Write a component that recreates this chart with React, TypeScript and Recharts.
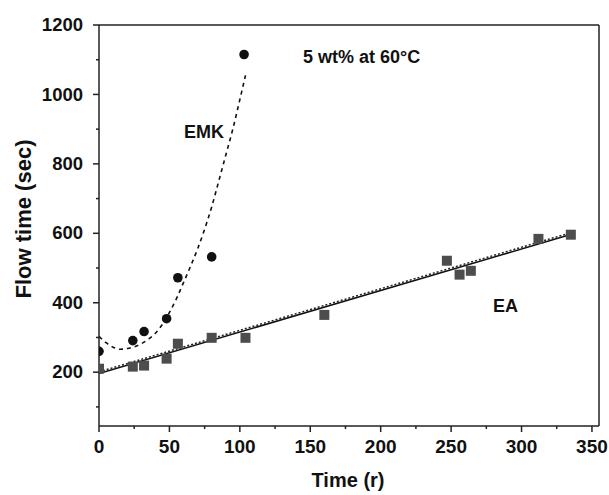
import React from 'react';
import {
    ComposedChart, XAxis, YAxis, Scatter, Line,
    ReferenceLine, Customized
} from 'recharts';

// measured points
const emkTime = [0, 24, 32, 48, 56, 80, 103];
const emkFlow = [260, 291, 317, 354, 472, 532, 1115];

const eaTime = [0, 24, 32, 48, 56, 80, 104, 160, 247, 256, 264, 312, 335];
const eaFlow = [210, 216, 219, 239, 282, 299, 299, 365, 521, 481, 492, 584, 596];

// fitted curves
const emkFitTime = [0, 5, 10, 15, 20, 25, 30, 35, 40, 45, 50, 55, 60, 65, 70, 75, 80, 85, 90, 95, 100, 104];
const emkFitFlow = [303, 285, 272, 266, 268, 273, 282, 295, 312, 338, 372, 412, 458, 505, 555, 612, 676, 750, 825, 900, 985, 1055];

const eaFitTime = [0, 336];
const eaFitFlow = [196, 598];
const eaFit2Flow = [201, 603];

const xTicks = [0, 25, 50, 75, 100, 125, 150, 175, 200, 225, 250, 275, 300, 325, 350];
const yTicks = [100, 200, 300, 400, 500, 600, 700, 800, 900, 1000, 1100, 1200];

const zip = (xs: number[], ys: number[]) => xs.map((x, i) => ({ x, y: ys[i] }));

const emkPoints = zip(emkTime, emkFlow);
const eaPoints = zip(eaTime, eaFlow);
const emkFit = zip(emkFitTime, emkFitFlow);
const eaFit = zip(eaFitTime, eaFitFlow);
const eaFit2 = zip(eaFitTime, eaFit2Flow);

const FONT = 'Liberation Sans, Arial, sans-serif';
const AXIS = '#222';

const YTick = (props: any) => {
    const { x, y, payload } = props;
    const major = payload.value % 200 === 0;
    return (
        <g>
            <line x1={x} x2={x - (major ? 6 : 3)} y1={y} y2={y} stroke={AXIS} strokeWidth={1.5} />
            {major && (
                <text x={x - 16} y={y} dy="0.33em" textAnchor="end"
                    fontFamily={FONT} fontWeight="bold" fontSize={18.5} fill="#111">
                    {payload.value}
                </text>
            )}
        </g>
    );
};

const XTick = (props: any) => {
    const { x, y, payload } = props;
    const major = payload.value % 50 === 0;
    return (
        <g>
            <line x1={x} x2={x} y1={y} y2={y + (major ? 6 : 3)} stroke={AXIS} strokeWidth={1.5} />
            {major && (
                <text x={x} y={y + 27} textAnchor="middle"
                    fontFamily={FONT} fontWeight="bold" fontSize={19} fill="#111">
                    {payload.value}
                </text>
            )}
        </g>
    );
};

const Circle = (p: any) => <circle cx={p.cx} cy={p.cy} r={4.8} fill="#111" />;
const Square = (p: any) => <rect x={p.cx - 5} y={p.cy - 5} width={10} height={10} fill="#4d4d4d" />;

const Annotations = () => (
    <g fontFamily={FONT} fontWeight="bold" fill="#111">
        <text x={303} y={63} fontSize={18}>5 wt% at 60°C</text>
        <text x={184} y={138} fontSize={18}>EMK</text>
        <text x={493} y={312} fontSize={18}>EA</text>
        <text x={348} y={487} fontSize={20} textAnchor="middle">Time (r)</text>
        <text x={23} y={219} fontSize={22} textAnchor="middle" dominantBaseline="central"
            transform="rotate(-90 23 219)">Flow time (sec)</text>
    </g>
);

export default function App() {
    return (
        <div style={{ position: 'absolute', left: 0, top: 0, background: '#fff' }}>
            <ComposedChart width={609} height={495} margin={{ top: 25, right: 10, left: 0, bottom: 0 }}>
                <XAxis
                    type="number"
                    dataKey="x"
                    domain={[0, 355]}
                    ticks={xTicks}
                    allowDataOverflow
                    height={69}
                    tickSize={0}
                    tickMargin={0}
                    tickLine={false}
                    tick={<XTick />}
                    axisLine={{ stroke: AXIS, strokeWidth: 1.5 }}
                    interval={0}
                />
                <YAxis
                    type="number"
                    domain={[45, 1200]}
                    ticks={yTicks}
                    allowDataOverflow
                    width={99}
                    tickSize={0}
                    tickMargin={0}
                    tickLine={false}
                    tick={<YTick />}
                    axisLine={{ stroke: AXIS, strokeWidth: 1.5 }}
                    interval={0}
                />
                <ReferenceLine y={1200} stroke={AXIS} strokeWidth={1.5} />
                <ReferenceLine x={355} stroke={AXIS} strokeWidth={1.5} />
                <Line data={emkFit} dataKey="y" type="monotone" stroke="#111" strokeWidth={1.6}
                    strokeDasharray="4 4" dot={false} isAnimationActive={false} />
                <Scatter data={eaPoints} dataKey="y" shape={Square} isAnimationActive={false} />
                <Scatter data={emkPoints} dataKey="y" shape={Circle} isAnimationActive={false} />
                <Line data={eaFit} dataKey="y" type="linear" stroke="#111" strokeWidth={1.5}
                    dot={false} isAnimationActive={false} />
                <Line data={eaFit2} dataKey="y" type="linear" stroke="#222" strokeWidth={1.5}
                    strokeDasharray="2 2" dot={false} isAnimationActive={false} />
                <Customized component={Annotations} />
            </ComposedChart>
        </div>
    );
}
